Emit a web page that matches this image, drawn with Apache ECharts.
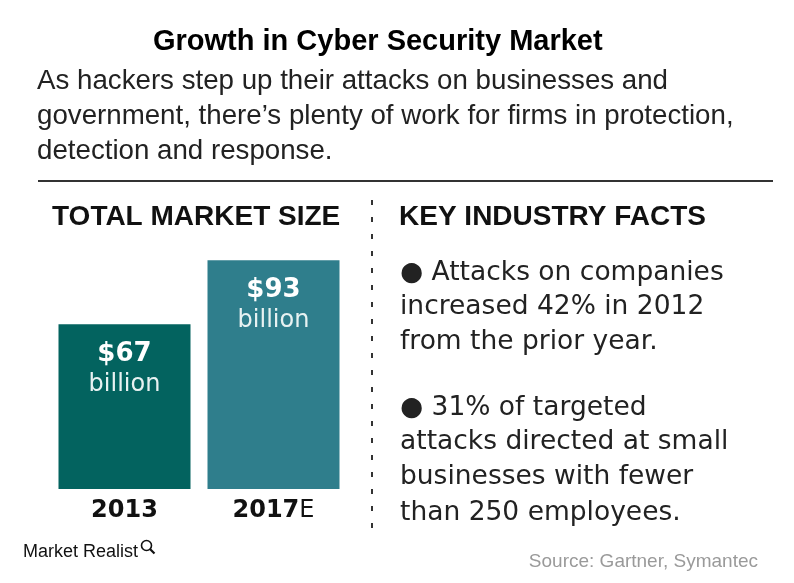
<!DOCTYPE html>
<html><head><meta charset="utf-8">
<script src="https://cdn.jsdelivr.net/npm/echarts@6/dist/echarts.min.js"></script>
<style>html,body{margin:0;padding:0;background:#fff}#c{width:794px;height:583px}</style>
</head><body><div id="c"></div>
<script>
var categories = ['2013', '2017E'];
var marketSize = [67, 93];
var valueLabels = ['$67', '$93'];
var barColors = ['#03635f', '#2f7e8c'];
var titleText = 'Growth in Cyber Security Market';
var subtitleLines = ['As hackers step up their attacks on businesses and',
  'government, there\u2019s plenty of work for firms in protection,',
  'detection and response.'];
var factLines = ['\u25CF Attacks on companies', 'increased 42% in 2012', 'from the prior year.',
  '\u25CF 31% of targeted', 'attacks directed at small', 'businesses with fewer', 'than 250 employees.'];
var factY = [272, 306, 341, 407, 441, 476, 512];

var F = '"Liberation Sans", Arial, sans-serif';
var D = '"DejaVu Sans", sans-serif';
var chart = echarts.init(document.getElementById('c'));
var graphics = [];
graphics.push({type:'text', left:153, top:27, style:{text:titleText, font:'bold 29px ' + F, fill:'#000'}});
subtitleLines.forEach(function(t,i){
  graphics.push({type:'text', left:37, top:67 + i*35, style:{text:t, font:'27.7px ' + F, fill:'#222'}});
});
graphics.push({type:'line', shape:{x1:38,y1:181,x2:773,y2:181}, style:{stroke:'#333', lineWidth:2}});
graphics.push({type:'text', left:52, top:203, style:{text:'TOTAL MARKET SIZE', font:'bold 28px ' + F, fill:'#111'}});
graphics.push({type:'text', left:399, top:203, style:{text:'KEY INDUSTRY FACTS', font:'bold 28px ' + F, fill:'#111'}});
graphics.push({type:'line', shape:{x1:372,y1:200,x2:372,y2:528}, style:{stroke:'#333', lineWidth:2, lineDash:[5,12]}});
factLines.forEach(function(t,i){
  graphics.push({type:'text', left:400, top:factY[i]-12, style:{text:t, font:'26.5px ' + D, fill:'#222'}});
});
graphics.push({type:'text', left:23, top:543, style:{text:'Market Realist', font:'18px ' + F, fill:'#111'}});
graphics.push({type:'circle', shape:{cx:146.5,cy:545.5,r:5}, style:{fill:'none', stroke:'#111', lineWidth:1.6}});
graphics.push({type:'line', shape:{x1:150,y1:549,x2:154.5,y2:553.5}, style:{stroke:'#111', lineWidth:2.2}});
graphics.push({type:'text', right:36, top:552, style:{text:'Source: Gartner, Symantec', font:'19px ' + F, fill:'#9a9a9a'}});

chart.setOption({
  animation:false,
  grid:{left:50, width:298, top:243, height:246},
  xAxis:{type:'category', data:categories, axisLine:{show:false}, axisTick:{show:false},
    axisLabel:{margin:10, formatter:function(v){ return v==='2017E' ? '{b|2017}{n|E}' : '{b|' + v + '}'; },
      rich:{b:{fontFamily:'DejaVu Sans', fontWeight:'bold', fontSize:24, color:'#111'},
            n:{fontFamily:'DejaVu Sans', fontSize:24, color:'#111'}}}},
  yAxis:{type:'value', min:0, max:100, show:false, splitLine:{show:false}},
  series:[{type:'bar', barWidth:132,
    data:marketSize.map(function(v,i){ return {value:v, itemStyle:{color:barColors[i]}}; }),
    label:{show:true, position:'insideTop', distance:14,
      formatter:function(p){ return '{v|' + valueLabels[p.dataIndex] + '}\n{u|billion}'; },
      rich:{v:{fontFamily:'DejaVu Sans', fontWeight:'bold', fontSize:26, color:'#fff', lineHeight:32},
            u:{fontFamily:'DejaVu Sans', fontSize:24, color:'#e8f2f2', lineHeight:30}}}
  }],
  graphic:graphics
});
</script></body></html>
